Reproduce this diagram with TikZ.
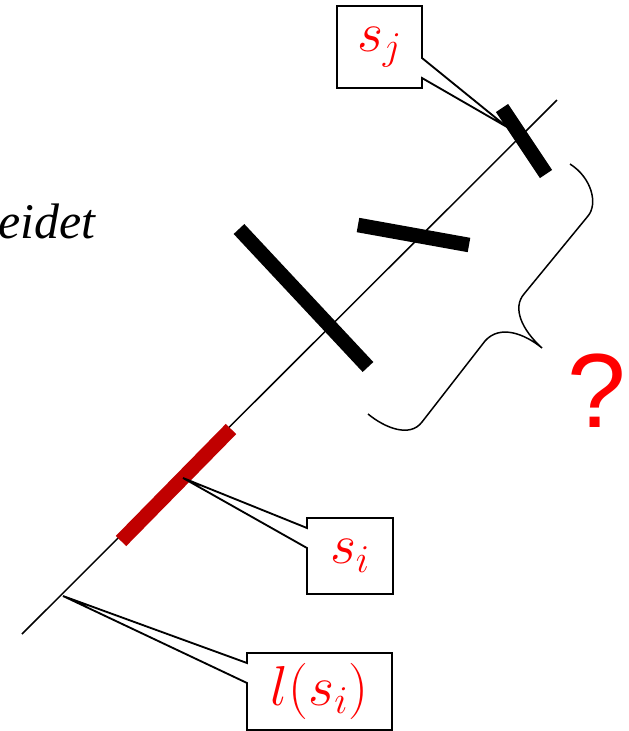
\RequirePackage{fix-cm}
\documentclass[tikz,border=0pt]{standalone}
\usepackage{fontspec}
\usepackage{tikz}
\usetikzlibrary{shapes.callouts, positioning}
\newfontfamily\marksans{Liberation Sans}
\newfontfamily\wordserif{Liberation Serif}
\definecolor{segred}{RGB}{192,0,0}
\tikzset{
	axisline/.style={draw, line width=0.85pt},
	segment/.style={draw, line width=8.3pt},
	hitseg/.style={segment, draw=segred},
	tag/.style={rectangle callout, draw, line width=1.05pt, text=red, inner sep=0pt,
		font=\fontsize{32}{36}\selectfont, callout pointer width=0.4cm},
	bracket/.style={draw, line width=0.85pt}
}

\begin{document}
\begin{tikzpicture}[x=0.02cm, y=-0.02cm]
	\useasboundingbox (0,0) rectangle (629,731);

	% Line
	\coordinate (L-0) at (22,634);
	\coordinate (L-1) at (557,100);
	\draw[axisline] (L-0) -- (L-1);
	\node[anchor=base east, inner sep=0pt, font=\wordserif\itshape\fontsize{28.4}{32}\selectfont] (word) at (96,238) {eidet};

	% Segments
	\coordinate (S-1a) at (502,108);
	\coordinate (S-1b) at (546,174);
	\coordinate (S-2a) at (358,225);
	\coordinate (S-2b) at (469,245);
	\coordinate (S-3a) at (239,229);
	\coordinate (S-3b) at (368,367);
	\coordinate (S-4a) at (231,429);
	\coordinate (S-4b) at (121,541);
	\foreach \i in {1,...,3}
		\draw[segment] (S-\i a) -- (S-\i b);
	\draw[hitseg] (S-4a) -- (S-4b);

	% Brace and question
	\draw[bracket] (368,414) .. controls (385,428) and (410,438) .. (422,422)
		-- (485,341) .. controls (500,324) and (525,334) .. (542,348)
		.. controls (522,330) and (512,308) .. (524,294)
		-- (588,216) .. controls (598,204) and (592,178) .. (570,164);
	\node[anchor=base, inner sep=0pt, text=red, font=\marksans\fontsize{60}{60}\selectfont] (ask) at (597,427) {?};

	% Labels
	\coordinate (tip-sj) at (507,127);
	\coordinate (tip-si) at (183,478);
	\coordinate (tip-l) at (63,596);
	\node[tag, minimum width=1.7cm, minimum height=1.64cm, callout absolute pointer={(tip-sj)}] (sj) at (379.5,47) {$s_j$};
	\node[tag, minimum width=1.72cm, minimum height=1.52cm, callout absolute pointer={(tip-si)}] (si) at (350,556) {$s_i$};
	\node[tag, minimum width=2.9cm, minimum height=1.54cm, callout absolute pointer={(tip-l)}] (lsi) at (319.5,691.5) {$l(s_i)$};
\end{tikzpicture}
\end{document}
